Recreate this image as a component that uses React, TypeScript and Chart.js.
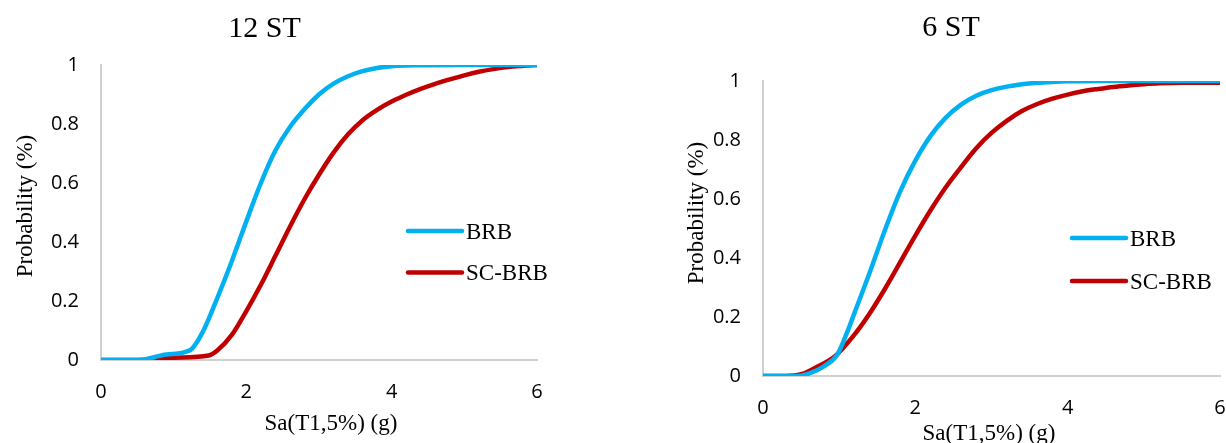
import React, { useEffect, useRef } from "react";
import { Chart, registerables } from "chart.js";

Chart.register(...registerables);

// 12-storey frame: fragility curves, Sa(T1,5%) in g vs probability
const st12BrbSa = [0, 0.5, 0.9, 1.23, 1.4, 1.6, 1.8, 2.0, 2.2, 2.4, 2.6, 2.8, 3.0, 3.2, 3.4, 3.6, 3.8, 4.0, 4.3, 5.0, 6.0];
const st12BrbP = [0, 0, 0.0186, 0.034, 0.095, 0.21, 0.335, 0.47, 0.6, 0.71, 0.79, 0.85, 0.9, 0.937, 0.962, 0.979, 0.99, 0.996, 0.999, 1, 1];
const st12ScSa = [0, 0.5, 1.0, 1.48, 1.6, 1.8, 2.0, 2.2, 2.4, 2.6, 2.8, 3.0, 3.2, 3.4, 3.6, 3.8, 4.0, 4.2, 4.4, 4.6, 4.8, 5.0, 5.2, 5.4, 5.6, 5.8, 6.0];
const st12ScP = [0, 0, 0.0077, 0.015, 0.032, 0.085, 0.166, 0.255, 0.353, 0.452, 0.545, 0.628, 0.703, 0.765, 0.813, 0.848, 0.876, 0.899, 0.919, 0.936, 0.951, 0.965, 0.977, 0.986, 0.993, 0.997, 1];

// 6-storey frame
const st6BrbSa = [0, 0.45, 0.6, 0.8, 0.97, 1.1, 1.2, 1.4, 1.6, 1.8, 2.0, 2.2, 2.4, 2.6, 2.8, 3.0, 3.2, 3.4, 3.6, 3.8, 4.0, 4.5, 6.0];
const st6BrbP = [0, 0, 0.008, 0.033, 0.07, 0.145, 0.213, 0.35, 0.494, 0.625, 0.73, 0.814, 0.876, 0.92, 0.95, 0.969, 0.981, 0.989, 0.994, 0.997, 0.999, 1, 1];
const st6ScSa = [0, 0.3, 0.5, 0.7, 0.95, 1.2, 1.4, 1.6, 1.8, 2.0, 2.2, 2.4, 2.6, 2.8, 3.0, 3.2, 3.4, 3.6, 3.8, 4.0, 4.2, 4.4, 4.6, 4.8, 5.0, 5.2, 5.5, 6.0];
const st6ScP = [0, 0, 0.006, 0.03, 0.068, 0.14, 0.212, 0.295, 0.385, 0.476, 0.562, 0.64, 0.708, 0.772, 0.824, 0.865, 0.898, 0.922, 0.94, 0.954, 0.965, 0.973, 0.98, 0.985, 0.989, 0.992, 0.994, 0.994];

const seriesNames = ["BRB", "SC-BRB"];
const seriesColors = ["#00B0F0", "#C00000"];
const xAxisTitle = "Sa(T1,5%) (g)";
const yAxisTitle = "Probability (%)";

const SERIF = "'Liberation Serif', 'Times New Roman', serif";
const SANS = "'Open Sans', 'Noto Sans', sans-serif";

const toPoints = (xs: number[], ys: number[]) => xs.map((x, i) => ({ x, y: ys[i] }));

// Draws the chart title, axis titles and the in-plot legend
const textLayer = {
  id: "textLayer",
  afterDraw(chart: any, _args: any, opts: any) {
    const ctx = chart.ctx as CanvasRenderingContext2D;
    for (const t of opts.items || []) {
      ctx.save();
      ctx.font = t.font;
      ctx.fillStyle = "#000";
      ctx.textAlign = "center";
      ctx.textBaseline = "alphabetic";
      ctx.translate(t.x, t.y);
      if (t.rotate) ctx.rotate(t.rotate);
      ctx.fillText(t.text, 0, 0);
      ctx.restore();
    }
    const lg = opts.legend;
    if (lg) {
      chart.data.datasets.forEach((ds: any, i: number) => {
        const y = lg.y + i * lg.gap;
        ctx.save();
        ctx.strokeStyle = ds.borderColor;
        ctx.lineWidth = 4.5;
        ctx.lineCap = "round";
        ctx.beginPath();
        ctx.moveTo(lg.x, y);
        ctx.lineTo(lg.x + lg.len, y);
        ctx.stroke();
        ctx.font = lg.font;
        ctx.fillStyle = "#000";
        ctx.textAlign = "left";
        ctx.textBaseline = "alphabetic";
        ctx.fillText(ds.label, lg.x + lg.len + 4, y + 7.7);
        ctx.restore();
      });
    }
  },
};

type PanelProps = {
  left: number;
  title: string;
  brb: { x: number; y: number }[];
  sc: { x: number; y: number }[];
  area: { left: number; right: number; top: number; bottom: number };
  titlePos: [number, number];
  yTitlePos: [number, number];
  xTitlePos: [number, number];
  legendPos: { x: number; y: number; gap: number };
};

const W = 613;
const H = 443;

function Panel(p: PanelProps) {
  const ref = useRef<HTMLCanvasElement | null>(null);
  useEffect(() => {
    if (!ref.current) return;
    const chart = new Chart(ref.current, {
      type: "line",
      data: {
        datasets: [p.brb, p.sc].map((d, i) => ({
          label: seriesNames[i],
          data: d,
          borderColor: seriesColors[i],
          backgroundColor: seriesColors[i],
          borderWidth: 4.5,
          pointRadius: 0,
          cubicInterpolationMode: "monotone" as const,
          fill: false,
        })),
      },
      options: {
        responsive: false,
        animation: false,
        devicePixelRatio: 1,
        layout: { padding: { left: 0, top: p.area.top, right: W - p.area.right, bottom: 0 } },
        plugins: {
          legend: { display: false },
          title: { display: false },
          tooltip: { enabled: false },
          textLayer: {
            items: [
              { text: p.title, x: p.titlePos[0], y: p.titlePos[1], font: `30px ${SERIF}` },
              { text: yAxisTitle, x: p.yTitlePos[0], y: p.yTitlePos[1], font: `23px ${SERIF}`, rotate: -Math.PI / 2 },
              { text: xAxisTitle, x: p.xTitlePos[0], y: p.xTitlePos[1], font: `23px ${SERIF}` },
            ],
            legend: { ...p.legendPos, len: 54, font: `23px ${SERIF}` },
          },
        } as any,
        scales: {
          x: {
            type: "linear",
            min: 0,
            max: 6,
            grid: { display: false, drawTicks: false },
            border: { display: true, color: "#d0d0d0", width: 2 },
            ticks: { stepSize: 2, padding: 20, color: "#000", font: { family: SANS, size: 20 } },
            afterFit: (s: any) => {
              s.height = H - p.area.bottom;
              s.paddingLeft = 0;
              s.paddingRight = 0;
            },
          },
          y: {
            min: 0,
            max: 1,
            grid: { display: false, drawTicks: false },
            border: { display: true, color: "#d0d0d0", width: 2 },
            ticks: {
              stepSize: 0.2,
              padding: 22,
              color: "#000",
              font: { family: SANS, size: 20 },
              callback: (v: any) => String(Math.round(Number(v) * 10) / 10),
            },
            afterFit: (s: any) => {
              s.width = p.area.left;
              s.paddingTop = 0;
              s.paddingBottom = 0;
            },
          },
        },
      },
      plugins: [textLayer],
    });
    return () => chart.destroy();
  }, []);
  return (
    <canvas
      ref={ref}
      width={W}
      height={H}
      style={{ position: "absolute", left: p.left, top: 0, width: W, height: H }}
    />
  );
}

export default function App() {
  return (
    <div style={{ position: "fixed", left: 0, top: 0, width: 1226, height: 443, background: "#fff", overflow: "hidden" }}>
      <Panel
        left={0}
        title="12 ST"
        brb={toPoints(st12BrbSa, st12BrbP)}
        sc={toPoints(st12ScSa, st12ScP)}
        area={{ left: 101, right: 537, top: 65, bottom: 360 }}
        titlePos={[264.5, 36.5]}
        yTitlePos={[32, 206]}
        xTitlePos={[331, 430]}
        legendPos={{ x: 408, y: 231, gap: 41.6 }}
      />
      <Panel
        left={613}
        title="6 ST"
        brb={toPoints(st6BrbSa, st6BrbP)}
        sc={toPoints(st6ScSa, st6ScP)}
        area={{ left: 150, right: 607, top: 81, bottom: 376 }}
        titlePos={[338, 36]}
        yTitlePos={[89.7, 213]}
        xTitlePos={[376, 440]}
        legendPos={{ x: 459, y: 238, gap: 43 }}
      />
    </div>
  );
}
